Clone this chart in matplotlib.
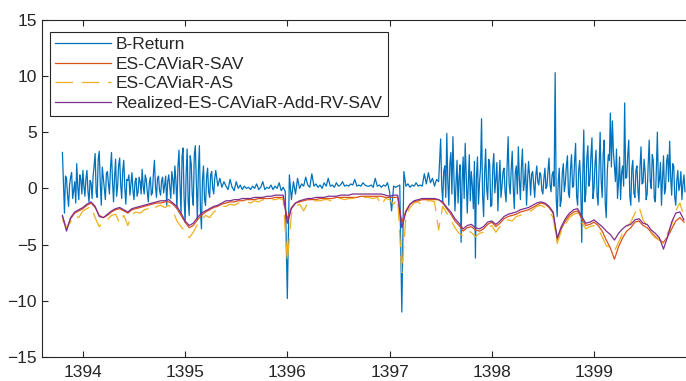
import numpy as np
import matplotlib
matplotlib.use("Agg")
import matplotlib.pyplot as plt

# B-Return in three stretches
# 1393.80 - 1395.29, every 0.01 year
ret_early = [
    3.2, 0.4, -2.2, 1.1, 0.9, -0.6, -1.6, 0.3, 1.0, 1.4, -0.9, -0.2, 0.6, -1.3, 2.2, 0.1, -1.0, 1.2, 0.8, -0.5,
    1.6, 0.2, -0.7, 0.9, 1.6, -0.3, -1.2, 0.7, 0.5, -0.9, 1.1, 2.0, 3.1, -0.4, -0.8, 2.6, 3.3, 0.5, -1.5, 1.9,
    0.9, 0.0, -1.0, 1.3, 1.5, 0.4, -0.5, 1.8, 3.2, 0.6, -1.2, 1.0, 2.6, -0.7, 0.2, 2.1, 2.7, 0.3, -0.9, 1.6,
    2.5, 0.1, -1.4, 0.8, 0.7, 1.2, -0.6, 0.4, 1.4, -0.2, -1.0, 0.6, 0.9, -0.7, -0.3, 1.0, 0.6, -0.5, 1.7, 0.2,
    -0.5, 1.2, 0.8, -0.3, -1.2, 0.5, 1.0, -0.6, -0.4, 1.3, 2.5, 0.2, -0.8, 0.9, 1.1, -0.2, -0.6, 0.7, 1.0, -0.4,
    0.3, 1.1, -1.5, 0.6, 1.2, 0.2, -0.9, 1.5, 0.8, -0.5, 2.0, 0.7, -1.8, 1.9, 3.4, 0.3, -2.2, 2.8, 3.6, -0.8,
    -3.0, 1.2, 3.5, -1.1, -2.4, 2.9, 2.2, -0.6, -1.5, 3.0, 3.8, 0.4, -2.8, 1.6, 3.8, -1.9, -3.6, 0.8, 2.0, -1.0,
    -1.5, 1.0, 1.8, -0.3, -0.8, 1.2, 1.5, 0.0, -0.5, 0.9,
]
# 1395.30 - 1397.48, every 0.02 year
ret_calm = [
    1.6, 0.2, 0.9, 0.1, 0.6,
    0.2, -0.1, 0.8, 0.1, -0.2, 0.6, 0.0, 0.3, -0.1, 0.2,
    0.0, 0.1, -0.1, 0.2, 0.0, 0.4, -0.1, 0.1, 0.6, -0.1,
    0.1, 0.0, 0.3, -0.1, 0.2, 0.0, 0.5, -0.2, 0.1, -0.3,
    -9.8, 1.2, -1.0, 0.6, -0.5, 0.9, 0.0, 0.4, 0.2, 1.0,
    0.3, 0.1, 1.3, 0.2, 0.4, 0.1, 0.3, 0.0, 0.5, 0.2,
    0.9, 0.2, 0.3, 0.1, 0.5, 0.2, 0.3, 0.6, 0.2, 0.3,
    0.2, 0.4, 0.3, 0.8, 0.2, 0.3, 0.2, 0.5, 0.3, 0.2,
    0.2, 0.3, 0.1, 0.9, 0.2, 0.3, 0.1, 0.3, 0.2, 0.5,
    -0.3, -2.0, 0.2, 0.1, 0.2, 0.3, -11.0, 1.5, 0.2, 0.4,
    0.1, 0.3, 0.2, 0.5, 0.2, 0.3, 0.2, 1.3, 0.4, 1.4,
    0.5, 0.9, 0.2, 0.8, 0.6,
]
# 1397.50 - 1399.89, every 0.01 year
ret_late = [
    4.4, 0.3, -1.2, 1.5, 2.0, -0.8, 4.9, 0.6, -1.5, 2.2,
    3.2, -0.5, 4.6, 1.0, -2.0, 0.4, 2.5, -1.3, 1.0, 2.1, -4.8, 0.7, 2.8, -0.9, 4.0, 1.2, -2.2, 0.5, 3.0, -1.1,
    1.5, 0.2, -1.8, 2.4, -6.2, 1.0, 2.8, -1.4, 0.5, 1.8, 6.2, -0.6, -2.5, 1.3, 3.5, 0.0, -1.0, 2.6, 2.2, -1.6,
    -1.5, 1.9, 3.1, -0.4, 0.8, 2.3, -2.0, 0.6, 2.5, -0.8, 0.2, 1.5, 1.8, -0.3, -1.2, 2.0, 4.6, 0.4, -0.5, 1.7,
    3.3, 0.1, -1.8, 1.4, 2.0, -0.5, 3.7, 0.8, -1.0, 1.9, 3.5, -0.2, 0.5, 2.2, -1.5, 0.7, 2.4, 1.1, -0.6, 1.3,
    1.5, 0.4, -0.8, 1.1, 2.0, 0.6, 0.3, 1.4, 1.2, -0.2, -0.5, 0.9, 1.8, 0.0, 0.2, 1.6, 2.7, 0.3, -0.3, 1.2,
    1.5, 0.2, 10.3, -0.8, -2.5, 0.6, 1.8, -1.6, -1.0, 1.4, 2.2, -0.3, 0.5, 2.0, 2.9, -0.4, -0.8, 1.7, 3.0, 0.1,
    0.2, 2.4, 4.0, -0.7, -1.5, 1.6, 2.5, 0.3, -4.8, 1.1, 5.2, -1.2, -0.5, 2.7, 3.8, 0.2, 0.8, 2.9, 4.5, -0.9,
    0.0, 2.2, 3.4, -0.6, -1.5, 2.0, 5.0, 0.7, -0.8, 3.1, 4.3, -1.3, -2.6, 1.5, 3.0, 2.5, 6.7, 1.9, 6.0, 3.2,
    2.0, 0.6, 3.5, -0.9, 0.5, 2.8, -1.0, 1.4, 2.0, 0.2, 7.6, 0.9, 1.0, 3.0, 4.3, -0.7, -1.5, 1.8, 2.5, -0.4,
    -0.8, 1.6, 2.0, -0.2, -1.2, 1.9, 3.7, 0.4, 0.5, 2.6, 1.5, -1.0, -0.5, 2.1, 4.3, 0.6, 0.0, 3.0, 2.5, -0.9,
    -1.2, 1.7, 5.0, 0.1, 0.8, 2.3, -1.5, 0.9, 2.9, -0.5, 0.0, 2.4, 3.0, 0.6, 4.2, 1.0, -0.6, 2.2, 2.0, -0.8,
    -1.5, 0.7, 1.6, -0.2, 0.3, 1.5, -1.0, 0.4, 1.2, -0.3,
]

# ES estimates, one value every 0.04 year starting 1393.80
es_start, es_step = 1393.80, 0.04
es_sav = [
    -2.5, -3.6, -2.7, -2.2, -2.0, -1.8, -1.5, -1.3, -1.7, -2.4,
    -2.6, -2.4, -2.1, -1.9, -1.8, -2.0, -2.2, -1.9, -1.8, -1.7,
    -1.6, -1.5, -1.4, -1.3, -1.3, -1.2, -1.2, -1.4, -1.8, -2.4,
    -3.0, -3.5, -3.3, -2.8, -2.4, -2.1, -1.9, -1.7, -1.6, -1.4,
    -1.3, -1.2, -1.2, -1.1, -1.1, -1.0, -1.0, -1.0, -0.9, -0.9,
    -0.9, -0.9, -0.8, -0.8, -0.8, -2.7, -1.7, -1.3, -1.2, -1.1,
    -1.0, -1.0, -1.0, -0.9, -0.9, -0.9, -0.9, -0.8, -0.8, -0.8,
    -0.8, -0.8, -0.8, -0.7, -0.7, -0.7, -0.7, -0.7, -0.7, -0.8,
    -0.8, -0.8, -0.8, -3.0, -2.0, -1.4, -1.2, -1.1, -1.0, -1.0,
    -1.0, -1.0, -1.0, -1.3, -1.8, -2.3, -2.9, -3.3, -3.8, -3.5,
    -3.4, -3.7, -3.8, -3.6, -3.2, -3.0, -3.4, -3.1, -2.7, -2.5,
    -2.4, -2.3, -2.1, -2.0, -1.9, -1.7, -1.5, -1.3, -1.4, -1.7,
    -2.2, -4.6, -3.6, -2.9, -2.4, -2.1, -2.0, -2.7, -3.3, -3.2,
    -3.0, -3.3, -3.8, -4.6, -5.3, -6.3, -5.2, -4.4, -3.8, -3.5,
    -3.0, -2.9, -3.3, -3.5, -3.9, -4.3, -4.6, -4.8, -4.3, -3.6,
    -2.9, -2.6, -3.0,
]
es_as = [
    -2.8, -3.5, -3.0, -2.4, -2.6, -2.0, -1.8, -1.6, -2.6, -3.4,
    -3.0, -2.8, -2.4, -2.3, -3.1, -2.4, -3.3, -2.3, -2.1, -2.2,
    -1.9, -1.8, -2.0, -1.6, -1.5, -1.7, -1.5, -2.0, -2.9, -3.4,
    -3.8, -4.4, -3.9, -3.2, -2.8, -2.4, -2.6, -2.1, -1.9, -1.6,
    -1.6, -1.4, -1.5, -1.3, -1.3, -1.2, -1.3, -1.1, -1.2, -1.0,
    -1.1, -1.0, -1.0, -0.9, -1.0, -6.5, -2.3, -1.6, -1.4, -2.0,
    -1.3, -1.2, -1.1, -1.1, -1.0, -1.0, -1.2, -0.9, -0.9, -1.0,
    -0.9, -0.9, -0.8, -0.9, -0.8, -0.8, -0.9, -0.8, -1.5, -0.9,
    -1.0, -1.4, -0.9, -7.5, -2.5, -1.7, -1.3, -1.2, -1.5, -1.1,
    -1.1, -1.2, -3.7, -1.6, -2.2, -2.8, -3.5, -4.0, -4.2, -3.8,
    -3.9, -4.3, -4.0, -3.9, -3.5, -3.3, -3.9, -3.4, -3.0, -2.8,
    -2.9, -2.5, -2.4, -2.2, -2.1, -1.9, -1.6, -1.5, -1.7, -2.0,
    -2.6, -4.9, -3.8, -3.2, -2.6, -2.3, -2.2, -3.0, -3.6, -3.4,
    -3.3, -3.6, -4.3, -5.1, -5.3, -5.6, -4.8, -4.0, -3.5, -3.0,
    -2.2, -1.6, -2.8, -3.4, -4.0, -4.4, -4.6, -4.9, -4.0, -3.2,
    -2.0, -1.3, -2.5,
]
es_rv = [
    -2.4, -3.8, -2.6, -2.1, -1.9, -1.7, -1.4, -1.2, -1.6, -2.5,
    -2.6, -2.3, -2.0, -1.8, -1.7, -1.9, -2.1, -1.8, -1.7, -1.6,
    -1.5, -1.4, -1.3, -1.2, -1.1, -1.1, -1.0, -1.3, -1.6, -2.2,
    -2.9, -3.3, -3.1, -2.6, -2.2, -2.0, -1.8, -1.6, -1.5, -1.3,
    -1.1, -1.1, -1.0, -1.0, -0.9, -0.9, -0.9, -0.8, -0.8, -0.8,
    -0.7, -0.7, -0.6, -0.6, -0.6, -3.1, -1.8, -1.3, -1.1, -1.0,
    -0.9, -0.9, -0.8, -0.8, -0.8, -0.7, -0.7, -0.7, -0.6, -0.6,
    -0.6, -0.5, -0.5, -0.5, -0.5, -0.5, -0.5, -0.5, -0.5, -0.6,
    -0.7, -0.6, -0.6, -3.5, -2.1, -1.4, -1.1, -1.0, -0.9, -0.9,
    -0.9, -0.9, -1.0, -1.2, -1.7, -2.1, -2.7, -3.1, -3.6, -3.3,
    -3.2, -3.5, -3.6, -3.4, -3.0, -2.9, -3.2, -2.9, -2.5, -2.3,
    -2.2, -2.1, -1.9, -1.8, -1.7, -1.5, -1.3, -1.2, -1.3, -1.6,
    -2.1, -4.4, -3.4, -2.7, -2.2, -1.9, -1.8, -2.5, -3.1, -3.0,
    -2.8, -3.1, -3.4, -3.8, -4.1, -4.6, -4.0, -3.6, -3.3, -3.2,
    -2.8, -2.7, -3.1, -3.2, -3.7, -4.0, -4.4, -5.4, -4.3, -3.0,
    -2.2, -2.1, -2.8,
]
year_ticks = [1394, 1395, 1396, 1397, 1398, 1399]
labels = ["B-Return", "ES-CAViaR-SAV", "ES-CAViaR-AS", "Realized-ES-CAViaR-Add-RV-SAV"]

t_ret = np.concatenate([
    1393.80 + 0.01 * np.arange(len(ret_early)),
    1395.30 + 0.02 * np.arange(len(ret_calm)),
    1397.50 + 0.01 * np.arange(len(ret_late)),
])
b_return = ret_early + ret_calm + ret_late
t_es = es_start + es_step * np.arange(len(es_sav))

plt.rcParams['font.family'] = ['Liberation Sans', 'DejaVu Sans']
fig = plt.figure(figsize=(6.86, 3.81), dpi=100)
ax = fig.add_axes([0.0612, 0.063, 0.9537, 0.885])

lw = 0.9
ax.plot(t_ret, b_return, color='#0072BD', lw=lw, label=labels[0])
ax.plot(t_es, es_sav, color='#D95319', lw=lw, label=labels[1])
ax.plot(t_es, es_as, color='#EDB120', lw=lw, dashes=(14, 7), label=labels[2])
ax.plot(t_es, es_rv, color='#7E2F8E', lw=lw, label=labels[3])

ax.set_xlim(1393.6, 1400.0)
ax.set_ylim(-15, 15)
ax.set_xticks(year_ticks)
ax.set_yticks(range(-15, 16, 5))
ax.tick_params(direction='in', length=4, labelsize=12.5, colors='#262626',
               top=True, right=False)
ax.tick_params(axis='x', pad=6)
for s in ax.spines.values():
    s.set_color('#262626')
    s.set_linewidth(0.8)
ax.spines['right'].set_visible(False)

leg = ax.legend(loc='upper left', bbox_to_anchor=(0.0122, 0.964), borderaxespad=0,
                fontsize=12.5, handlelength=3.2, handletextpad=0.3,
                labelspacing=0.25, borderpad=0.3, fancybox=False, framealpha=1)
leg.get_frame().set_edgecolor('#262626')
leg.get_frame().set_linewidth(0.8)
for txt in leg.get_texts():
    txt.set_color('#262626')

fig.savefig("out.png", dpi=100)
